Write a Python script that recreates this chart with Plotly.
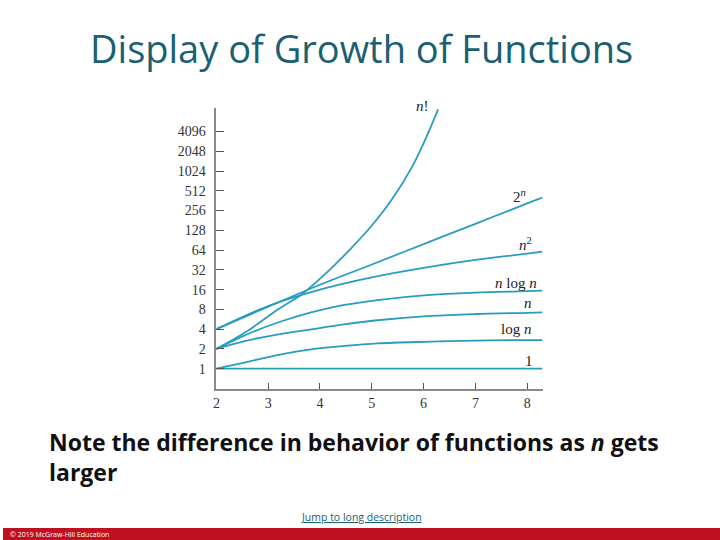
import numpy as np
import plotly.graph_objects as go

# ---- data ----
one_x = [2, 8.29]
one_y = [1, 1]

logn_x = [2, 2.56, 3.2, 3.83, 4.47, 5.11, 6.13, 7, 8.29]
logn_y = [1, 1.25, 1.62, 1.97, 2.22, 2.43, 2.58, 2.68, 2.73]

n_x = [2, 2.56, 3.2, 3.83, 4.47, 5.11, 6.13, 7, 8, 8.29]
n_y = [2, 2.64, 3.34, 3.98, 4.74, 5.46, 6.35, 6.8, 7.1, 7.2]

nlogn_x = [2, 2.56, 3.2, 3.83, 4.47, 5.11, 6.13, 7, 8, 8.29]
nlogn_y = [2, 3.25, 5.09, 7.2, 9.33, 11.1, 13.3, 14.4, 15.2, 15.4]

n2_x = [2, 3, 4, 5, 6, 7, 8, 8.29]
n2_y = [4, 9, 16, 24.6, 34.3, 45.3, 56.5, 60.5]

pow2_x = [2, 3, 4, 5, 6, 7, 8, 8.29]
pow2_y = [4, 8.8, 19, 38.6, 79, 161, 329, 402]

fact_x = [2, 2.56, 3.2, 3.67, 4.15, 4.6, 4.98, 5.38, 5.78, 6.05, 6.28]
fact_y = [2, 3.58, 8.11, 14.0, 30.1, 68.1, 145, 370, 1193, 3327, 8900]

series = [
    (one_x, one_y), (logn_x, logn_y), (n_x, n_y), (nlogn_x, nlogn_y),
    (n2_x, n2_y), (pow2_x, pow2_y), (fact_x, fact_y),
]

labels = ["1", "log <i>n</i>", "<i>n</i>", "<i>n</i> log <i>n</i>",
          "<i>n</i><sup>2</sup>", "2<sup><i>n</i></sup>", "<i>n</i>!"]
label_x = [8.03, 7.79, 8.02, 7.79, 7.96, 7.86, 5.97]
label_y = [1.31, 4.03, 9.85, 20.5, 79, 428, 8700]
label_shift = [0, 0, 0, 0, 0, 0, 4]

y_ticks = [1, 2, 4, 8, 16, 32, 64, 128, 256, 512, 1024, 2048, 4096]
x_ticks = [2, 3, 4, 5, 6, 7, 8]

title_text = "Display of Growth of Functions"
note_text = "Note the difference in behavior of functions as <i>n</i> gets<br>larger"
link_text = "<u>Jump to long description</u>"
footer_text = "© 2019 McGraw-Hill Education"

LINE = "#2a9cc0"
TEAL = "#1b5f72"
SERIF = "Liberation Serif, Times New Roman, serif"

fig = go.Figure()
for xs, ys in series:
    fig.add_trace(go.Scatter(x=xs, y=ys, mode="lines",
                             line=dict(color=LINE, width=1.8, shape="spline", smoothing=1.0),
                             hoverinfo="skip", showlegend=False, cliponaxis=False))

for t, lx, ly, sh in zip(labels, label_x, label_y, label_shift):
    fig.add_annotation(x=lx, y=np.log10(ly), xref="x", yref="y", text=t, yshift=sh,
                       showarrow=False, font=dict(family=SERIF, size=15, color="#222"))

fig.update_xaxes(range=[2, 8.3], domain=[0.2976, 0.7528], showline=True,
                 linecolor="#8a8a8a", linewidth=1.5, ticks="inside", ticklen=6,
                 tickwidth=1.2, tickcolor="#555", tickvals=x_ticks,
                 ticktext=[str(v) for v in x_ticks], showgrid=False, zeroline=False,
                 tickfont=dict(family=SERIF, size=14, color="#333"))
fig.update_yaxes(type="log", range=[np.log10(2 ** -1.03), np.log10(2 ** 13.19)],
                 domain=[0.2796, 0.80], showline=True, linecolor="#8a8a8a",
                 linewidth=1.5, ticks="inside", ticklen=8, tickwidth=1.2,
                 tickcolor="#555", tickvals=y_ticks, ticktext=[str(v) for v in y_ticks],
                 showgrid=False, zeroline=False, ticklabelstandoff=6,
                 tickfont=dict(family=SERIF, size=14, color="#333"))

fig.add_annotation(x=0.5, y=1 - 48 / 540, xref="paper", yref="paper", text=title_text,
                   showarrow=False, font=dict(family="Open Sans", size=38, color=TEAL),
                   xanchor="center", yanchor="middle")
fig.add_annotation(x=44 / 720, y=1 - 424 / 540, xref="paper", yref="paper", text=note_text,
                   showarrow=False, align="left", xanchor="left", yanchor="top",
                   font=dict(family="Open Sans", size=23, color="#111", weight="bold"))
fig.add_annotation(x=0.5, y=1 - 517 / 540, xref="paper", yref="paper", text=link_text,
                   showarrow=False, font=dict(family="Open Sans", size=10.5, color=TEAL),
                   xanchor="center", yanchor="middle")

fig.add_shape(type="rect", xref="paper", yref="paper", x0=0, x1=1, y0=0, y1=12 / 540,
              fillcolor="#c00f20", line=dict(width=0), layer="below")
fig.add_annotation(x=5 / 720, y=6 / 540, xref="paper", yref="paper", text=footer_text,
                   showarrow=False, xanchor="left", yanchor="middle",
                   font=dict(family="Open Sans", size=7, color="white"))

fig.update_layout(width=720, height=540, margin=dict(l=0, r=0, t=0, b=0),
                  paper_bgcolor="white", plot_bgcolor="white")

fig.write_html("out.html", config={"displayModeBar": False},
               post_script="document.body.style.margin='0';document.body.style.overflow='hidden';")
